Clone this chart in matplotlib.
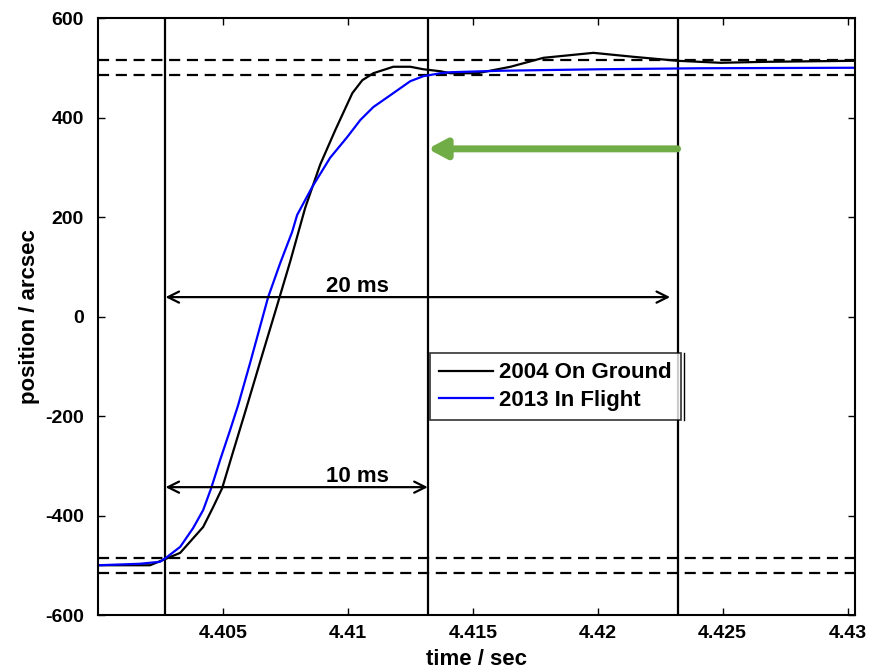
import numpy as np
import matplotlib.pyplot as plt
from matplotlib.lines import Line2D

plt.rcParams['font.family'] = ['Liberation Sans', 'DejaVu Sans']
plt.rcParams['font.weight'] = 'bold'
plt.rcParams['axes.unicode_minus'] = False

# 2004 on-ground step response (time [s], position [arcsec])
t_ground = [4.4000, 4.40208, 4.40272, 4.40329, 4.40421, 4.40461, 4.40497, 4.40537,
            4.40589, 4.40649, 4.40709, 4.40769, 4.40829, 4.40889, 4.40950, 4.41018,
            4.41058, 4.41102, 4.41182, 4.41250, 4.41302, 4.41370, 4.41410, 4.41518,
            4.41651, 4.41783, 4.41983, 4.42143, 4.42320, 4.42492, 4.42680, 4.43025]
p_ground = [-500, -500, -487, -475, -423, -383, -345, -278,
            -192, -91, 9, 110, 218, 305, 375, 449,
            475, 489, 502, 502, 497, 493, 489, 489,
            502, 520, 530, 522, 514, 510, 512, 514]

# 2013 in-flight step response
t_flight = [4.4000, 4.40168, 4.40248, 4.40272, 4.40329, 4.40381, 4.40421, 4.40453,
            4.40489, 4.40529, 4.40561, 4.40609, 4.40681, 4.40729, 4.40777, 4.40797,
            4.40857, 4.40929, 4.40998, 4.41050, 4.41102, 4.41182, 4.41250, 4.41302,
            4.41370, 4.41410, 4.41611, 4.42011, 4.42412, 4.43025]
p_flight = [-500, -497, -493, -485, -463, -425, -389, -345,
            -288, -228, -178, -93, 39, 107, 170, 204,
            260, 319, 361, 395, 421, 449, 473, 483,
            489, 491, 494, 497, 499, 500]

t_marks = [4.4027, 4.4132, 4.4232]
band_levels = [-515, -485, 485, 515]
arrow_20ms_y = 39
arrow_10ms_y = -343
arrow_green_y = 337

fig = plt.figure(figsize=(8.79, 6.72), dpi=100)
ax = fig.add_axes([0.1115, 0.0848, 0.8612, 0.8884])

for y in band_levels:
    ax.axhline(y, color='black', lw=1.6, ls=(0, (5, 3)))
for t in t_marks:
    ax.axvline(t, color='black', lw=1.6)

ax.plot(t_ground, p_ground, color='black', lw=1.6, label='2004 On Ground')
ax.plot(t_flight, p_flight, color='blue', lw=1.6, label='2013 In Flight')

ax.annotate('', xy=(t_marks[0], arrow_20ms_y), xytext=(t_marks[2] - 0.0003, arrow_20ms_y),
            arrowprops=dict(arrowstyle='<->', color='black', lw=1.6, mutation_scale=20,
                            shrinkA=0, shrinkB=0))
ax.annotate('', xy=(t_marks[0], arrow_10ms_y), xytext=(t_marks[1], arrow_10ms_y),
            arrowprops=dict(arrowstyle='<->', color='black', lw=1.6, mutation_scale=20,
                            shrinkA=0, shrinkB=0))
ax.text(4.4104, arrow_20ms_y + 1, '20 ms', ha='center', va='bottom', fontsize=16, fontweight='bold')
ax.text(4.4104, arrow_10ms_y + 1, '10 ms', ha='center', va='bottom', fontsize=16, fontweight='bold')

ax.annotate('', xy=(t_marks[1], arrow_green_y), xytext=(t_marks[2], arrow_green_y),
            arrowprops=dict(arrowstyle='-|>,head_length=0.6,head_width=0.32', color='#70AD47',
                            lw=5, mutation_scale=18, shrinkA=0, shrinkB=0))

leg = ax.legend(loc='upper left', bbox_to_anchor=(0.4386, 0.4389), fontsize=16,
                frameon=True, fancybox=False, edgecolor='black', borderpad=0.42,
                handlelength=2.4, handletextpad=0.3, borderaxespad=0, labelspacing=0.3)
leg.get_frame().set_linewidth(1.2)

ax.set_xlim(4.4, 4.4303)
ax.set_ylim(-600, 600)
ax.set_xticks([4.405, 4.41, 4.415, 4.42, 4.425, 4.43])
ax.set_xticklabels(['4.405', '4.41', '4.415', '4.42', '4.425', '4.43'])
ax.set_yticks([-600, -400, -200, 0, 200, 400, 600])
ax.tick_params(direction='in', top=True, right=True, length=5, width=1, labelsize=14)
ax.tick_params(axis='x', pad=7)
ax.tick_params(axis='y', pad=10)
for lbl in ax.get_xticklabels() + ax.get_yticklabels():
    lbl.set_fontweight('bold')
for s in ax.spines.values():
    s.set_linewidth(1.5)
ax.set_xlabel('time / sec', fontsize=16, fontweight='bold', labelpad=5)
ax.set_ylabel('position / arcsec', fontsize=16, fontweight='bold', labelpad=4)

# second edge on the right of the legend box, as in the original export
fig.canvas.draw()
bb = leg.get_window_extent().transformed(fig.transFigure.inverted())
dx = 3 / fig.bbox.width
fig.add_artist(Line2D([bb.x1 + dx, bb.x1 + dx], [bb.y0, bb.y1], color='black', lw=1.0))

fig.savefig('out.png', dpi=100)
